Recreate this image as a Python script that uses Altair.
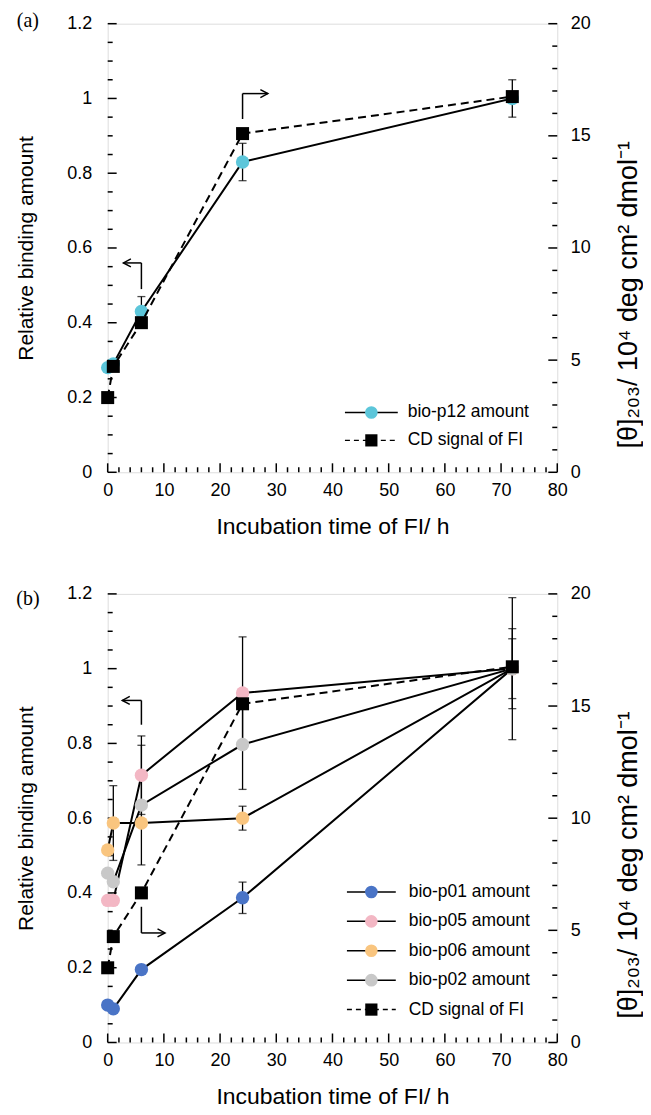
import altair as alt
import pandas as pd

FONT = "Liberation Sans"
W, H = 451, 450

# ---------------- data ----------------
times = [0, 1, 6, 24, 72]

# panel (a)
p12 = [0.28, 0.29, 0.43, 0.83, 1.00]
p12_err = [0.0, 0.0, 0.04, 0.05, 0.05]
cd_signal = [3.33, 4.72, 6.67, 15.1, 16.75]   # right axis units

# panel (b)
p01 = [0.10, 0.09, 0.195, 0.387, 1.00]
p01_err = [0.0, 0.0, 0.0, 0.042, 0.0]
p05 = [0.38, 0.38, 0.715, 0.935, 1.00]
p05_err = [0.0, 0.0, 0.105, 0.15, 0.19]
p06 = [0.515, 0.587, 0.587, 0.60, 1.00]
p06_err = [0.0, 0.10, 0.0, 0.032, 0.08]
p02 = [0.453, 0.43, 0.635, 0.797, 1.00]
p02_err = [0.0, 0.0, 0.16, 0.12, 0.107]

series_a = ["bio-p12"]
series_b = ["bio-p01", "bio-p05", "bio-p06", "bio-p02"]
values = {"bio-p12": (p12, p12_err), "bio-p01": (p01, p01_err), "bio-p05": (p05, p05_err),
          "bio-p06": (p06, p06_err), "bio-p02": (p02, p02_err)}
colors = {"bio-p12": "#5cc6da", "bio-p01": "#4a74c6", "bio-p05": "#f3b7c4",
          "bio-p06": "#f9c57f", "bio-p02": "#c8c8c8"}

# arrows: vertical from (x, y_from) to (x, y_to), then horizontal to x_to
arrows_a = {"x": [6, 24], "y_from": [0.49, 0.945], "y_to": [0.56, 1.013],
            "x_to": [2.8, 28.5], "head": ["left", "right"]}
arrows_b = {"x": [6, 6], "y_from": [0.85, 0.363], "y_to": [0.915, 0.293],
            "x_to": [2.6, 10.2], "head": ["left", "right"]}

x_major = [0, 10, 20, 30, 40, 50, 60, 70, 80]
x_minor = [v for v in range(0, 81, 2) if v % 10 != 0]
yl_major = [0, 0.2, 0.4, 0.6, 0.8, 1.0, 1.2]
yl_minor = [round(i * 0.05, 2) for i in range(1, 24) if i % 4 != 0]
yr_major = [0, 5, 10, 15, 20]
yr_minor = [i for i in range(1, 20) if i % 5 != 0]

RIGHT_TITLE = "[θ]₂₀₃/ 10⁴ deg cm² dmol⁻¹"

# ---------------- encodings ----------------
x_axis = alt.Axis(values=x_major, format="d", ticks=False, domain=False, grid=False, labelFlush=False,
                  labelFont=FONT, labelFontSize=18, labelColor="black", labelPadding=9,
                  title="Incubation time of FI/ h", titleFont=FONT, titleFontSize=23,
                  titleFontWeight="normal", titleColor="black", titlePadding=16)
yl_axis = alt.Axis(values=yl_major, format="~g", ticks=False, domain=False, grid=False, labelFlush=False,
                   labelFont=FONT, labelFontSize=18, labelColor="black", labelPadding=16,
                   title="Relative binding amount", titleFont=FONT, titleFontSize=21,
                   titleFontWeight="normal", titleColor="black", titlePadding=30)
yr_axis = alt.Axis(orient="right", values=yr_major, format="d", ticks=False, domain=False,
                   grid=False, labelFlush=False, labelFont=FONT, labelFontSize=18, labelColor="black",
                   labelPadding=13, title=None)

xs = alt.Scale(domain=[0, 80], nice=False, zero=False)
yls = alt.Scale(domain=[0, 1.2], nice=False, zero=False)
yrs = alt.Scale(domain=[0, 20], nice=False, zero=False)


def X(f):
    return alt.X(f"{f}:Q", scale=xs, axis=x_axis)


def YL(f):
    return alt.Y(f"{f}:Q", scale=yls, axis=yl_axis)


def YR(f):
    return alt.Y(f"{f}:Q", scale=yrs, axis=yr_axis)


def one_row(**kw):
    return pd.DataFrame({k: [v] for k, v in kw.items()} or {"a": [0]})


def frame_ticks():
    layers = []
    for vals, ln in ((yl_major, 9), (yl_minor, 5)):
        layers.append(alt.Chart(pd.DataFrame({"v": vals})).mark_rule(color="black", strokeWidth=1.5)
                      .encode(y=YL("v"), x=alt.value(0), x2=alt.value(ln)))
    for vals, ln in ((x_major, 9), (x_minor, 5)):
        layers.append(alt.Chart(pd.DataFrame({"v": vals})).mark_rule(color="black", strokeWidth=1.5)
                      .encode(x=X("v"), y=alt.value(H), y2=alt.value(H - ln)))
    return layers


def right_ticks():
    layers = []
    for vals, ln in ((yr_major, 9), (yr_minor, 5)):
        layers.append(alt.Chart(pd.DataFrame({"v": vals})).mark_rule(color="black", strokeWidth=1.5)
                      .encode(y=YR("v"), x=alt.value(W), x2=alt.value(W - ln)))
    return layers


def series_layers(names):
    rows, err_rows, cap_rows = [], [], []
    for n in names:
        vals, errs = values[n]
        for t, v, e in zip(times, vals, errs):
            rows.append({"series": n, "t": t, "v": v})
            if e > 0:
                err_rows.append({"series": n, "t": t, "lo": v - e, "hi": v + e})
                cap_rows.append({"t": t, "c": v - e})
                cap_rows.append({"t": t, "c": v + e})
    df = pd.DataFrame(rows)
    err = pd.DataFrame(err_rows)
    caps = pd.DataFrame(cap_rows)
    bars = alt.Chart(err).mark_rule(color="black", strokeWidth=1.3).encode(
        x=X("t"), y=YL("lo"), y2=alt.Y2("hi"))
    capm = alt.Chart(caps).mark_tick(color="black", orient="horizontal", size=8, thickness=1.3).encode(
        x=X("t"), y=YL("c"))
    lines = alt.Chart(df).mark_line(color="black", strokeWidth=2).encode(
        x=X("t"), y=YL("v"), detail="series:N")
    pts = alt.Chart(df).mark_point(filled=True, shape="circle", size=180, opacity=1).encode(
        x=X("t"), y=YL("v"),
        color=alt.Color("series:N", scale=alt.Scale(domain=names, range=[colors[n] for n in names]),
                        legend=None))
    return [bars, capm, lines, pts]


PATH_L = "M1.5,-0.8L0,0L1.5,0.8"
PATH_R = "M-1.5,-0.8L0,0L-1.5,0.8"


def arrow_layers(arr):
    d = pd.DataFrame(arr)
    v = alt.Chart(d).mark_rule(color="black", strokeWidth=1.5).encode(
        x=X("x"), y=YL("y_from"), y2=alt.Y2("y_to"))
    h = alt.Chart(d).mark_rule(color="black", strokeWidth=1.5).encode(
        x=X("x"), x2=alt.X2("x_to"), y=YL("y_to"))
    head = alt.Chart(d).mark_point(filled=False, color="black", strokeWidth=1.5, size=100, opacity=1).encode(
        x=X("x_to"), y=YL("y_to"),
        shape=alt.Shape("head:N", scale=alt.Scale(domain=["left", "right"], range=[PATH_L, PATH_R]),
                        legend=None))
    return [v, h, head]


def legend_layers(entries, top, step, x0, x1, xt):
    layers = []
    xm = (x0 + x1) / 2
    for i, (label, kind, col) in enumerate(entries):
        yy = top + i * step
        d = one_row(label=label)
        rkw = {"color": "black", "strokeWidth": 1.5}
        if kind == "square":
            rkw["strokeDash"] = [5, 4]
        layers.append(alt.Chart(d).mark_rule(**rkw).encode(
            x=alt.value(x0), x2=alt.value(x1), y=alt.value(yy)))
        if kind == "square":
            layers.append(alt.Chart(d).mark_point(filled=True, shape="square", size=150, color="black",
                                                  opacity=1).encode(x=alt.value(xm), y=alt.value(yy)))
        else:
            layers.append(alt.Chart(d).mark_point(filled=True, shape="circle", size=160, color=col,
                                                  opacity=1).encode(x=alt.value(xm), y=alt.value(yy)))
        layers.append(alt.Chart(d).mark_text(align="left", baseline="middle", font=FONT, fontSize=17.5,
                                             color="black").encode(
            x=alt.value(xt), y=alt.value(yy), text="label:N"))
    return layers


def cd_layers():
    df = pd.DataFrame({"t": times, "v": cd_signal})
    line = alt.Chart(df).mark_line(color="black", strokeWidth=2, strokeDash=[8, 5]).encode(
        x=X("t"), y=YR("v"))
    sq = alt.Chart(df).mark_point(filled=True, shape="square", size=170, color="black", opacity=1).encode(
        x=X("t"), y=YR("v"))
    title = alt.Chart(one_row(a=0)).mark_text(angle=270, align="center", baseline="middle", font=FONT,
                                              fontSize=27, color="black").encode(
        x=alt.value(W + 72), y=alt.value(H / 2 + 47), text=alt.value(RIGHT_TITLE))
    return [line, sq, title]


def panel(names, arrows, tag, legend_entries, leg_top, leg_step, x0, x1, xt, tag_y):
    label = alt.Chart(one_row(a=0)).mark_text(align="center", baseline="middle", font="Liberation Serif",
                                              fontSize=20, color="black").encode(
        x=alt.value(-80), y=alt.value(tag_y), text=alt.value(tag))
    left = alt.layer(*frame_ticks(), *series_layers(names), *arrow_layers(arrows),
                     *legend_layers(legend_entries, leg_top, leg_step, x0, x1, xt), label)
    right = alt.layer(*right_ticks(), *cd_layers())
    return alt.layer(left, right).resolve_scale(y="independent").properties(width=W, height=H)


leg_a = [("bio-p12 amount", "circle", colors["bio-p12"]), ("CD signal of FI", "square", "black")]
leg_b = [("bio-p01 amount", "circle", colors["bio-p01"]), ("bio-p05 amount", "circle", colors["bio-p05"]),
         ("bio-p06 amount", "circle", colors["bio-p06"]), ("bio-p02 amount", "circle", colors["bio-p02"]),
         ("CD signal of FI", "square", "black")]

pa = panel(series_a, arrows_a, "(a)", leg_a, 390, 28, 238, 291, 301, -3)
pb = panel(series_b, arrows_b, "(b)", leg_b, 299, 29.5, 240, 289, 302, 5)

chart = alt.vconcat(pa, pb, spacing=45).resolve_scale(color="independent").properties(
    padding={"left": 7, "top": 0, "right": 0, "bottom": 0}
).configure_view(stroke="black", strokeWidth=2).configure(background="white")

chart.save("out.html", embed_options={"renderer": "svg", "actions": False})
